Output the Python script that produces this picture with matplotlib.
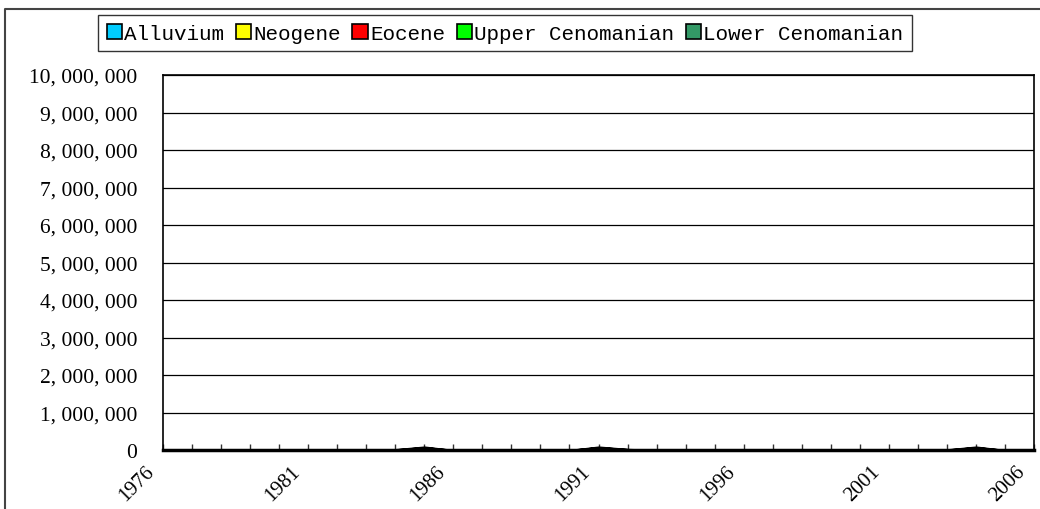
import matplotlib
matplotlib.use("Agg")
import matplotlib.pyplot as plt
from matplotlib.lines import Line2D
from matplotlib.patches import Patch
from matplotlib.ticker import FuncFormatter, MultipleLocator
from matplotlib.transforms import ScaledTranslation

# yearly totals per formation (tiny compared with the 10M axis)
years = list(range(1976, 2007))
series_names = ["Alluvium", "Neogene", "Eocene", "Upper Cenomanian", "Lower Cenomanian"]
series_colors = ["#00CCFF", "#FFFF00", "#FF0000", "#00FF00", "#339966"]

alluvium = [0, 0, 0, 0, 0, 0, 0, 0, 0, 35000, 0, 0, 0, 0, 0,
            35000, 8000, 0, 0, 0, 0, 0, 0, 0, 0, 0, 0, 0, 35000, 0, 0]
neogene = [0, 0, 0, 4000, 0, 4000, 4000, 4000, 5000, 15000, 0, 0, 0, 0, 0,
           15000, 5000, 0, 0, 0, 0, 0, 0, 0, 4000, 4000, 4000, 4000, 15000, 0, 0]
eocene = [0, 0, 0, 4000, 0, 4000, 4000, 4000, 5000, 15000, 0, 0, 0, 0, 0,
          15000, 5000, 0, 0, 0, 0, 0, 0, 0, 4000, 4000, 4000, 4000, 15000, 0, 0]
upper_cenomanian = [0, 0, 0, 3000, 0, 3000, 3000, 3000, 5000, 10000, 0, 0, 0, 0, 0,
                    10000, 4000, 0, 0, 0, 0, 0, 0, 0, 3000, 3000, 3000, 3000, 10000, 0, 0]
lower_cenomanian = [0, 0, 0, 4000, 0, 4000, 4000, 4000, 5000, 15000, 0, 0, 0, 0, 0,
                    15000, 5000, 0, 0, 0, 0, 0, 0, 0, 4000, 4000, 4000, 4000, 15000, 0, 0]

y_max = 10000000
y_step = 1000000
label_years = list(range(1976, 2007, 5))

W, H = 1040, 510
fig = plt.figure(figsize=(W / 100, H / 100), dpi=100)
ax = fig.add_axes([163 / W, (H - 451) / H, (1034 - 163) / W, (451 - 76) / H])

ax.stackplot(years, alluvium, neogene, eocene, upper_cenomanian, lower_cenomanian,
             colors=series_colors, edgecolor="black", linewidth=1.0, zorder=3)

ax.set_xlim(years[0], years[-1])
ax.set_ylim(0, y_max)
ax.yaxis.set_major_locator(MultipleLocator(y_step))
ax.yaxis.set_major_formatter(FuncFormatter(lambda v, p: f"{int(v):,}".replace(",", ", ")))
ax.grid(axis="y", color="black", linewidth=0.9, zorder=1)

ax.set_xticks(label_years)
ax.set_xticks(years, minor=True)
ax.set_xticklabels([str(y) for y in label_years], rotation=45, ha="right", va="top",
                   rotation_mode="anchor", fontfamily="Liberation Serif", fontsize=15)
ax.tick_params(axis="x", which="both", direction="in", length=4, width=1, color="#333333", pad=8.5)
ax.tick_params(axis="y", length=0, pad=18.5, labelsize=15.5)
for lab in ax.get_yticklabels():
    lab.set_fontfamily("Liberation Serif")

# slide the slanted year labels so they end left of their tick
shift = ScaledTranslation(-18 / 100, 0, fig.dpi_scale_trans)
for lab in ax.get_xticklabels():
    lab.set_transform(lab.get_transform() + shift)

for side in ["left", "top", "right"]:
    ax.spines[side].set_linewidth(1.2)
    ax.spines[side].set_color("black")
ax.spines["bottom"].set_linewidth(2.5)
ax.spines["bottom"].set_zorder(4)

handles = [Patch(facecolor=c, edgecolor="black", linewidth=1.2) for c in series_colors]
leg = fig.legend(handles, series_names, loc="center", ncol=5,
                 bbox_to_anchor=(505 / W, 1 - 34 / H),
                 prop={"family": "Liberation Mono", "size": 15},
                 handlelength=0.75, handleheight=0.75, handletextpad=0.1,
                 columnspacing=0.55, borderpad=0.4, frameon=True, fancybox=False)
leg.get_frame().set_edgecolor("black")
leg.get_frame().set_linewidth(1.0)

# outer chart frame
fig.add_artist(Line2D([5 / W, 5 / W, 1.0], [0.0, 1 - 10 / H, 1 - 10 / H],
                      transform=fig.transFigure, color="#444444", linewidth=1.5))

fig.savefig("out.png", dpi=100)
